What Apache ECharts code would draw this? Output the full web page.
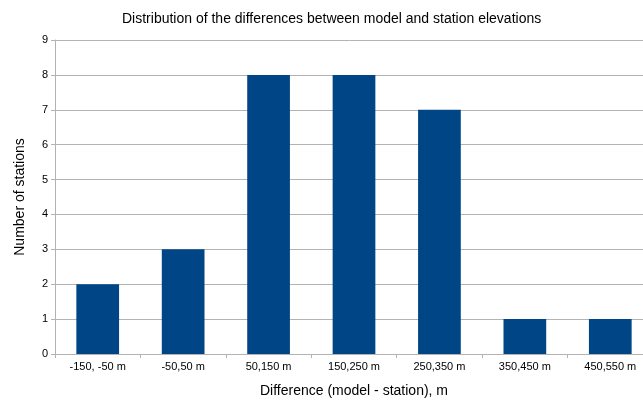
<!DOCTYPE html>
<html>
<head>
<meta charset="utf-8">
<script src="https://cdn.jsdelivr.net/npm/echarts@6/dist/echarts.min.js"></script>
<style>
  html, body { margin: 0; padding: 0; background: #fff; }
  #chart { width: 643px; height: 401px; }
</style>
</head>
<body>
<div id="chart"></div>
<script>
// bins of model minus station elevation
var categories = ['-150, -50 m', '-50,50 m', '50,150 m', '150,250 m', '250,350 m', '350,450 m', '450,550 m'];
var stationCounts = [2, 3, 8, 8, 7, 1, 1];

var chart = echarts.init(document.getElementById('chart'));
var font = '"Liberation Sans", Arial, sans-serif';

// the original picture is cropped on the right, so the plot runs past the edge
chart.setOption({
    animation: false,
    textStyle: {fontFamily: font},
    title: {
        text: 'Distribution of the differences between model and station elevations',
        left: 117,
        top: 7,
        textStyle: {fontFamily: font, fontSize: 14, fontWeight: 'normal', color: '#000'}
    },
    grid: {left: 55, right: -10, top: 40, bottom: 47, outerBoundsMode: 'none'},
    xAxis: {
        type: 'category',
        data: categories,
        name: 'Difference (model - station), m',
        nameLocation: 'middle',
        nameGap: 30,
        nameTextStyle: {fontSize: 14, color: '#000'},
        axisLine: {lineStyle: {color: '#b3b3b3'}},
        axisTick: {show: true, length: 4, lineStyle: {color: '#b3b3b3'}},
        axisLabel: {fontSize: 11, color: '#000', margin: 7}
    },
    yAxis: {
        type: 'value',
        min: 0,
        max: 9,
        interval: 1,
        name: 'Number of stations',
        nameLocation: 'middle',
        nameGap: 28,
        nameTextStyle: {fontSize: 14, color: '#000'},
        axisLine: {show: true, lineStyle: {color: '#b3b3b3'}},
        axisTick: {show: true, length: 4, lineStyle: {color: '#b3b3b3'}},
        axisLabel: {fontSize: 11, color: '#000', margin: 7},
        splitLine: {lineStyle: {color: '#b3b3b3'}}
    },
    series: [{
        type: 'bar',
        data: stationCounts,
        barWidth: '50%',
        itemStyle: {color: '#004586'}
    }]
});
</script>
</body>
</html>
